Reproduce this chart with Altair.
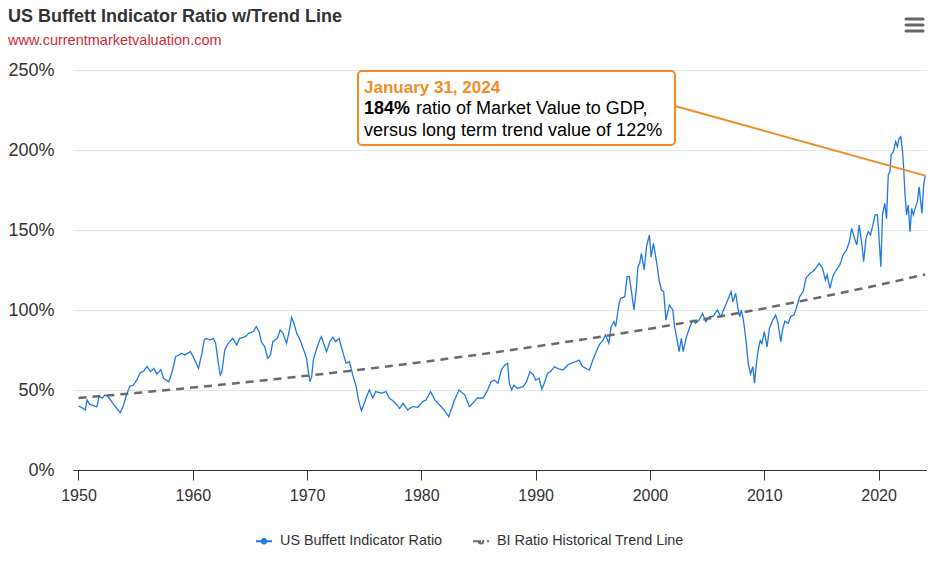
import altair as alt
import pandas as pd

SERIES = "US Buffett Indicator Ratio"
TREND = "BI Ratio Historical Trend Line"
TITLE = "US Buffett Indicator Ratio w/Trend Line"
SUBTITLE = "www.currentmarketvaluation.com"

years = [1950.0, 1950.3, 1950.6, 1950.75, 1951.0, 1951.2, 1951.6, 1951.8, 1952.1, 1952.3, 1952.6, 1952.9,
         1953.35, 1953.65, 1953.9, 1954.2, 1954.5, 1954.8, 1955.1, 1955.4, 1955.65, 1956.0, 1956.3, 1956.6,
         1956.85, 1957.2, 1957.45, 1957.9, 1958.2, 1958.5, 1958.8, 1959.0, 1959.3, 1959.8, 1960.1, 1960.5,
         1960.8, 1961.0, 1961.2, 1961.5, 1961.8, 1962.0, 1962.2, 1962.4, 1962.55, 1962.8, 1963.1, 1963.5,
         1963.85, 1964.1, 1964.6, 1964.9, 1965.3, 1965.55, 1965.8, 1966.0, 1966.3, 1966.55, 1966.8, 1967.0,
         1967.4, 1967.65, 1967.9, 1968.2, 1968.4, 1968.65, 1968.85, 1969.1, 1969.4, 1969.7, 1969.95, 1970.1,
         1970.25, 1970.4, 1970.55, 1970.8, 1971.1, 1971.25, 1971.5, 1971.7, 1972.0, 1972.25, 1972.5, 1972.8,
         1972.95, 1973.2, 1973.4, 1973.7, 1974.0, 1974.3, 1974.5, 1974.75, 1974.9, 1975.2, 1975.45, 1975.75,
         1976.0, 1976.5, 1976.9, 1977.2, 1977.6, 1978.1, 1978.4, 1978.8, 1979.2, 1979.7, 1980.1, 1980.4,
         1980.8, 1981.2, 1981.6, 1982.0, 1982.4, 1982.6, 1982.9, 1983.3, 1983.8, 1984.2, 1984.5, 1984.9,
         1985.4, 1985.8, 1986.1, 1986.4, 1986.7, 1987.0, 1987.3, 1987.55, 1987.7, 1987.9, 1988.1, 1988.4,
         1988.9, 1989.2, 1989.5, 1989.8, 1990.0, 1990.3, 1990.55, 1990.8, 1991.05, 1991.3, 1991.65, 1991.9,
         1992.4, 1992.8, 1993.1, 1993.5, 1993.8, 1994.1, 1994.4, 1994.7, 1995.0, 1995.3, 1995.55, 1995.9,
         1996.1, 1996.4, 1996.6, 1996.85, 1997.0, 1997.3, 1997.45, 1997.8, 1998.0, 1998.2, 1998.6, 1998.8,
         1998.95, 1999.1, 1999.25, 1999.5, 1999.7, 1999.95, 2000.1, 2000.3, 2000.6, 2000.8, 2001.0, 2001.2,
         2001.4, 2001.7, 2002.0, 2002.15, 2002.35, 2002.55, 2002.75, 2002.9, 2003.2, 2003.5, 2003.75, 2004.0,
         2004.3, 2004.6, 2004.9, 2005.2, 2005.5, 2005.9, 2006.2, 2006.5, 2006.8, 2007.1, 2007.25, 2007.5,
         2007.7, 2007.85, 2008.0, 2008.2, 2008.4, 2008.6, 2008.8, 2009.0, 2009.15, 2009.3, 2009.45, 2009.65,
         2009.8, 2010.0, 2010.25, 2010.45, 2010.75, 2011.0, 2011.2, 2011.45, 2011.6, 2011.8, 2012.1, 2012.3,
         2012.6, 2012.8, 2013.1, 2013.4, 2013.65, 2014.0, 2014.25, 2014.5, 2014.8, 2015.1, 2015.35, 2015.5,
         2015.75, 2016.0, 2016.3, 2016.6, 2016.9, 2017.2, 2017.45, 2017.65, 2017.9, 2018.1, 2018.3, 2018.55,
         2018.7, 2018.9, 2019.1, 2019.3, 2019.5, 2019.7, 2019.9, 2020.0, 2020.2, 2020.35, 2020.55, 2020.7,
         2020.85, 2021.0, 2021.1, 2021.3, 2021.5, 2021.65, 2021.8, 2021.95, 2022.1, 2022.2, 2022.3, 2022.45,
         2022.6, 2022.75, 2022.9, 2023.05, 2023.2, 2023.4, 2023.55, 2023.8, 2023.95, 2024.08]

ratio = [40, 39, 37.5, 43.8, 41, 40.6, 39.4, 45.8, 45, 46.9, 45.8, 42.7,
         38.5, 35.8, 39.6, 46.9, 52.5, 53, 56.3, 60.8, 61.5, 64.6, 61.5, 63.5,
         60, 62.7, 57.3, 55.2, 61.5, 70.8, 71.9, 72.9, 71.9, 74, 69.8, 63.5,
         72.9, 81.2, 82.3, 81.2, 82.3, 79.2, 68.7, 59.4, 61.5, 75, 79.2, 82.3,
         78.1, 82.3, 83.3, 85.4, 86.5, 89.6, 86.5, 80.2, 77, 69.8, 71.9, 80.2,
         82.3, 87.5, 85.4, 79.2, 85.4, 95.4, 91.7, 85.4, 81.2, 75, 70, 62,
         55.2, 58.3, 68.7, 75, 81.2, 83.3, 78.1, 74, 80.2, 83, 80.2, 82.3,
         78.1, 71.9, 66.7, 67.7, 59.4, 52, 43.7, 37.1, 39.6, 45.8, 50, 45,
         49, 48, 49, 45, 42.7, 38.5, 41.7, 37.5, 39.6, 39.2, 42.7, 43.7,
         49, 43.7, 40.6, 37.5, 33.3, 37.5, 43.7, 50, 46.9, 39.6, 41.7, 45,
         45, 50, 55.2, 56.2, 54.2, 62.5, 65.6, 66.7, 54.2, 50, 53, 51,
         52, 55.2, 61.5, 59.4, 56.2, 57.3, 50.5, 55.2, 60.4, 61.5, 64.6, 63.5,
         62.5, 65.6, 66.7, 67.7, 68.7, 64.6, 63.5, 62.5, 68.7, 74, 78.1, 81.2,
         84.4, 79.2, 89.6, 92.7, 89.6, 104.2, 107.3, 108.3, 120.8, 120.8, 100, 112.5,
         127, 129.2, 135.4, 125, 139.6, 146.9, 133, 141.7, 129.2, 118.7, 112.5, 111.5,
         93.7, 103.1, 100, 89.6, 82.3, 74, 82.3, 74, 83.3, 89.6, 93.7, 91.7,
         93.7, 97.9, 92.7, 95.8, 95.8, 100, 95.8, 101, 106.2, 111.5, 105.2, 110.4,
         101, 95.8, 100, 92.7, 81.2, 66.7, 60, 64.6, 54.2, 66, 74, 81,
         79, 86.5, 77, 88.5, 93.7, 96.9, 92, 80.2, 87.5, 93, 91.7, 95.8,
         96.9, 101, 108.3, 111.5, 119.8, 122.9, 124, 126, 129.2, 126, 118.7, 121.9,
         113.5, 121, 125, 128, 134.4, 137.5, 142.7, 151, 144.8, 140.6, 153.1, 140.6,
         130.2, 144.8, 149, 146.9, 153.1, 159.4, 159.4, 150, 127, 160, 166.7, 157,
         184.4, 186.5, 196.9, 199, 205.2, 202, 207.3, 208.3, 199, 188.5, 174, 159.4,
         165.6, 149, 163.5, 159.4, 163.5, 167.7, 177, 160.4, 178, 184]

trend_years = [1950, 1955, 1960, 1965, 1970, 1975, 1980, 1985, 1990, 1995, 2000, 2005, 2010, 2015, 2020, 2024.08]
trend_vals = [45.0, 48.1, 51.5, 55.1, 58.9, 63.0, 67.4, 72.1, 77.2, 82.5, 88.3, 94.5, 101.0, 108.1, 115.6, 122.2]

x_ticks = [1950, 1960, 1970, 1980, 1990, 2000, 2010, 2020]
y_ticks = [0, 50, 100, 150, 200, 250]

BLUE = "#1f78e6"
GRAY = "#6b6b6b"
ORANGE = "#f28c28"
FONT = "Liberation Sans"

bi = pd.DataFrame({"year": years, "value": ratio, "series": SERIES})
tr = pd.DataFrame({"year": trend_years, "value": trend_vals, "series": TREND})
last = bi.tail(1)
one = pd.DataFrame({"k": [0]})

x_enc = alt.X("year:Q",
              scale=alt.Scale(domain=[1949.52, 2024.24], nice=False, zero=False),
              axis=alt.Axis(values=x_ticks, format="d", title=None, grid=False,
                            domainColor="#333333", domainWidth=1, tickColor="#333333",
                            tickSize=10, labelFontSize=16, labelColor="#333333",
                            labelPadding=7, labelFont=FONT))
y_enc = alt.Y("value:Q",
              scale=alt.Scale(domain=[0, 250], nice=False),
              axis=alt.Axis(values=y_ticks, labelExpr="datum.value + '%'", title=None,
                            domain=False, ticks=False, gridColor="#e6e6e6",
                            labelPadding=19, labelFontSize=18, labelColor="#333333",
                            labelFont=FONT))

legend = alt.Legend(orient="none", legendX=182, legendY=462, direction="horizontal",
                    title=None, labelFontSize=14.4, labelColor="#333333", labelFont=FONT,
                    labelLimit=400,
                    symbolType="M-1,0H1M-0.28,0A0.28,0.28,0,1,0,0.28,0A0.28,0.28,0,1,0,-0.28,0",
                    symbolSize=256, symbolStrokeWidth=2, columnPadding=26, labelOffset=7)

color_enc = alt.Color("series:N", scale=alt.Scale(domain=[SERIES, TREND], range=[BLUE, GRAY]),
                      legend=legend)
dash_enc = alt.StrokeDash("series:N",
                          scale=alt.Scale(domain=[SERIES, TREND], range=[[1, 0], [8, 6]]),
                          legend=legend)

blue_line = alt.Chart(bi).mark_line(strokeWidth=1.3).encode(
    x=x_enc, y=y_enc, color=color_enc, strokeDash=dash_enc)
trend_line = alt.Chart(tr).mark_line(strokeWidth=2.5).encode(
    x=x_enc, y=y_enc, color=color_enc, strokeDash=dash_enc)

connector = alt.Chart(last).mark_rule(color=ORANGE, strokeWidth=2).encode(
    x="year:Q", y="value:Q", x2=alt.value(602), y2=alt.value(36))

box = alt.Chart(one).mark_rect(fill="white", stroke=ORANGE, strokeWidth=2, cornerRadius=4).encode(
    x=alt.value(285), x2=alt.value(602), y=alt.value(1), y2=alt.value(75))

def label(txt, xpos, ypos, color="#000000", weight="normal", size=18, baseline="middle"):
    return alt.Chart(one).mark_text(align="left", baseline=baseline, fontSize=size, font=FONT,
                                    fontWeight=weight, color=color).encode(
        x=alt.value(xpos), y=alt.value(ypos), text=alt.value(txt))

t1 = label("January 31, 2024", 291, 18, ORANGE, "bold", 17)
t2a = label("184%", 291, 39, "#000000", "bold")
t2b = label("ratio of Market Value to GDP,", 343, 39)
t3 = label("versus long term trend value of 122%", 291, 61)

title = label(TITLE, -65, -48, "#333333", "bold", 18, "alphabetic")
subtitle = label(SUBTITLE, -65, -25, "#d1293d", "normal", 14.5, "alphabetic")

menu = [alt.Chart(one).mark_rule(color="#666666", strokeWidth=3, strokeCap="round").encode(
    x=alt.value(833), x2=alt.value(850), y=alt.value(yy)) for yy in (-51, -45, -39)]

chart = alt.layer(blue_line, trend_line, connector, box, t1, t2a, t2b, t3, title, subtitle,
                  *menu).properties(
    width=854, height=400,
    autosize=alt.AutoSizeParams(type="none"),
    padding={"left": 65, "top": 62, "right": 0, "bottom": 83},
).configure(font=FONT).configure_view(strokeWidth=0)

chart.save("out.html", embed_options={"renderer": "svg", "actions": False})
